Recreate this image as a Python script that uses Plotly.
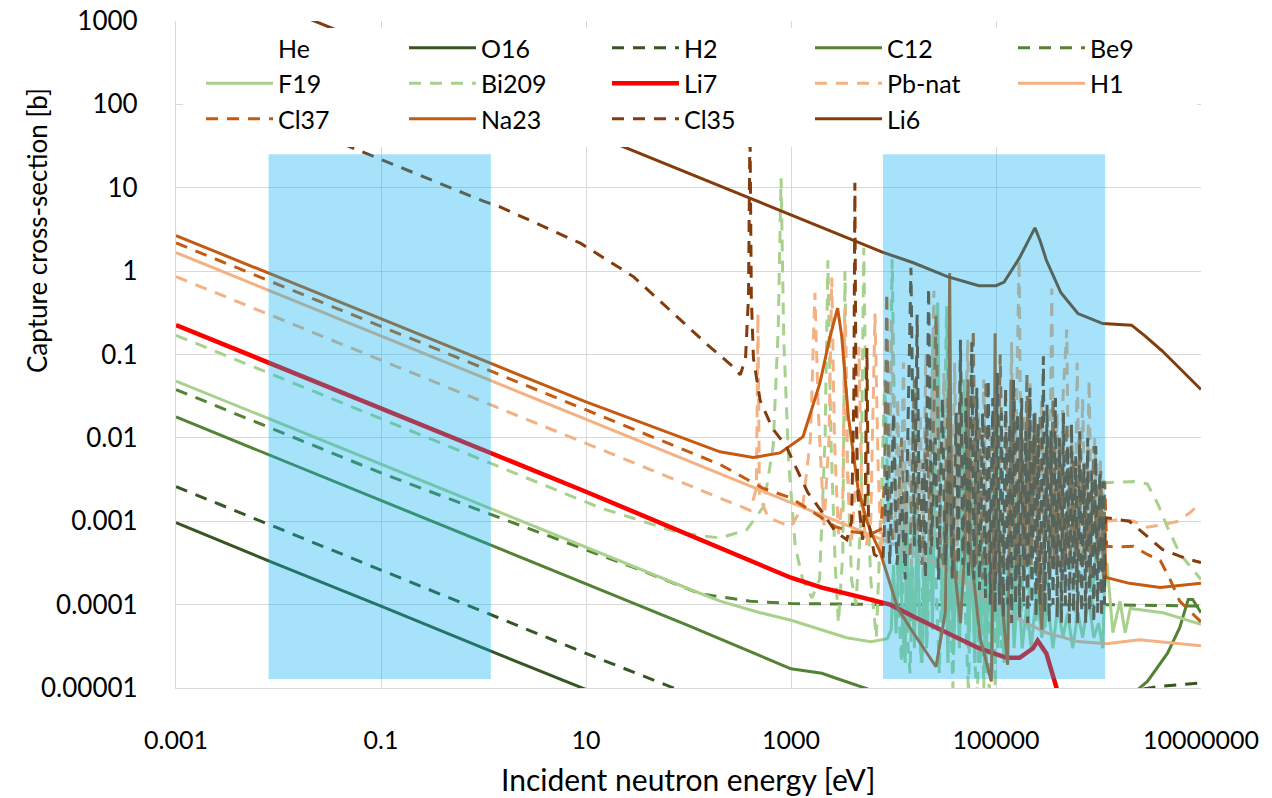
import plotly.graph_objects as go

# ---------------- capture cross-sections [b] vs incident neutron energy [eV] ----------------

he_e = [0.001, 1e7]
he_xs = [0, 0]

o16_e = [0.001, 0.01, 0.1, 1, 10, 12]
o16_xs = [9.6e-4, 3.0e-4, 9.6e-5, 3.0e-5, 9.6e-6, 8.8e-6]

h2_e = [0.001, 0.01, 0.1, 1, 10, 100, 1e3, 1e4, 1e5, 1e6, 2.4e6, 4e6, 7e6, 1e7]
h2_xs = [2.6e-3, 8.2e-4, 2.6e-4, 8.2e-5, 2.6e-5, 8.5e-6, 3.0e-6, 1.5e-6, 2.0e-6, 6.0e-6,
         9.5e-6, 1.05e-5, 1.12e-5, 1.15e-5]

c12_e = [0.001, 0.01, 0.1, 1, 10, 100, 1000, 2000, 2800, 5500, 2e4, 1e5, 1e6,
         2.4e6, 3.0e6, 4.7e6, 6.2e6, 7.5e6, 8.3e6, 1e7]
c12_xs = [0.0178, 5.6e-3, 1.78e-3, 5.6e-4, 1.78e-4, 5.6e-5, 1.7e-5, 1.5e-5, 1.3e-5, 9.8e-6,
          5e-6, 3e-6, 5e-6, 9.5e-6, 1.2e-5, 2.6e-5, 5.3e-5, 1.15e-4, 1.15e-4, 8e-5]

be9_e = [0.001, 0.01, 0.1, 1, 10, 34, 130, 400, 1000, 1e4, 1e5, 1e6, 1e7]
be9_xs = [0.038, 0.012, 0.0038, 0.0013, 4.6e-4, 2.6e-4, 1.35e-4, 1.1e-4, 1.03e-4, 1.0e-4,
          1.0e-4, 1.0e-4, 9.6e-5]

f19_e = [0.001, 0.01, 0.1, 1, 10, 100, 203, 500, 1000, 2000, 3500, 6000, 8700,
         9.5e3, 1.0e4, 1.06e4, 1.15e4, 1.22e4, 1.3e4, 1.35e4, 1.42e4, 1.5e4, 1.6e4, 1.7e4,
         1.8e4, 1.9e4, 2.0e4, 2.1e4, 2.25e4, 2.4e4, 2.55e4, 2.7e4, 2.85e4, 3.0e4, 3.2e4,
         3.4e4, 3.6e4, 3.85e4, 4.1e4, 4.4e4, 4.7e4, 4.9e4, 5.1e4, 5.4e4, 5.8e4, 6.2e4,
         6.6e4, 7.0e4, 7.5e4, 8.0e4, 8.6e4, 9.2e4, 9.7e4, 1.04e5, 1.12e5, 1.2e5, 1.3e5,
         1.4e5, 1.5e5, 1.65e5, 1.8e5, 2.0e5, 2.2e5, 2.5e5, 2.8e5, 3.2e5, 3.6e5, 4.0e5,
         4.5e5, 5.0e5, 5.6e5, 6.3e5, 7.0e5, 8.0e5, 9.0e5, 1.0e6, 1.1e6, 1.15e6,
         1.21e6, 1.38e6, 1.62e6, 1.82e6, 2.04e6, 4.27e6, 1e7]
f19_xs = [0.048, 0.0152, 0.0048, 1.52e-3, 4.8e-4, 1.55e-4, 1.1e-4, 8.0e-5, 6.5e-5, 5.0e-5,
          4.0e-5, 3.6e-5, 3.9e-5,
          5e-5, 3e-4, 4.5e-5, 8e-4, 6e-5, 2e-5, 1.5e-3, 5e-5, 3e-4, 3e-5, 1e-3,
          4e-5, 2e-5, 6e-4, 3e-5, 2e-3, 5e-5, 3e-3, 0.42, 2e-3, 6e-5, 3e-4,
          2e-5, 1e-3, 2.5e-5, 4e-4, 3e-5, 2e-3, 0.05, 1e-3, 3e-5, 6e-4, 2e-5,
          1e-3, 2e-5, 5e-4, 1.5e-5, 8e-4, 1.5e-5, 3e-3, 3e-5, 2e-4, 2e-5, 3e-4,
          6e-4, 3e-5, 2e-4, 3e-5, 1e-4, 3e-5, 1.5e-4, 4e-5, 1e-4, 3e-5, 1e-4,
          4e-5, 8e-5, 3e-5, 8e-5, 4e-5, 1.2e-4, 4e-5, 6e-5, 3e-5, 1.5e-4,
          3.2e-4, 4.6e-5, 1.1e-4, 4.6e-5, 9e-5, 8e-5, 5.8e-5]

bi209_e = [0.001, 0.01, 0.1, 1, 1.45, 13.7, 83, 203, 370, 540, 670, 750, 800, 850, 950,
           1100, 1300, 1600, 1900, 2150, 2290, 2450, 2700, 2900, 3200, 3360, 3550, 3900,
           4300, 4800, 5130, 5500, 6000, 6800, 7500, 8200, 9000, 9700, 1.05e4,
           1.12e4, 1.2e4, 1.28e4, 1.36e4, 1.45e4, 1.55e4, 1.65e4, 1.75e4, 1.86e4, 1.98e4,
           2.1e4, 2.25e4, 2.43e4, 2.6e4, 2.8e4, 3.0e4, 3.3e4, 3.5e4, 3.8e4, 4.1e4, 4.4e4,
           4.7e4, 5.0e4, 5.4e4, 5.8e4, 6.2e4, 6.6e4, 7.1e4, 7.6e4, 8.1e4, 8.6e4, 9.2e4,
           9.8e4, 1.05e5, 1.12e5, 1.2e5, 1.3e5, 1.4e5, 1.5e5, 1.62e5, 1.75e5, 1.9e5,
           2.05e5, 2.25e5, 2.45e5, 2.7e5, 3.0e5, 3.5e5, 4.2e5, 5.0e5, 6.0e5, 7.2e5, 8.6e5,
           1.0e6, 1.12e6, 1.2e6, 2.2e6, 3.0e6, 3.8e6, 4.7e6, 6.2e6, 1e7]
bi209_xs = [0.17, 0.054, 0.017, 0.0054, 0.0045, 0.00145, 7.2e-4, 6.3e-4, 7.9e-4, 0.0015,
            0.008, 0.2, 13, 0.15, 0.005,
            5e-4, 2e-4, 1.2e-4, 2e-4, 0.01, 1.35, 0.01, 3e-4, 6e-5, 4e-4, 1.0, 5e-3, 2e-4,
            1e-4, 1e-3, 1.9, 3e-3, 2e-4, 4e-5, 1e-3, 0.05, 1e-3, 1.4, 2e-3,
            1e-4, 2e-5, 3e-3, 5e-5, 1.5e-5, 4e-4, 0.05, 3e-4, 2e-5, 1e-3,
            3e-5, 2e-4, 0.16, 2e-4, 1.5e-5, 5e-4, 0.38, 3e-4, 1e-5, 2e-3, 5e-5,
            0.03, 1e-4, 8e-6, 4e-3, 2e-5, 8e-6, 2e-3, 1e-5, 6e-4, 7e-6, 5e-3,
            1e-5, 0.02, 3e-5, 1e-3, 4e-5, 5e-3, 5e-5, 2e-3, 6e-5, 1e-3,
            5e-5, 2e-3, 6e-5, 1e-3, 5e-5, 2e-3, 8e-5, 1e-3, 6e-5, 8e-4, 1e-4,
            1e-3, 3e-3, 2.9e-3, 3.0e-3, 2.8e-3, 1.6e-3, 8.5e-4, 4.1e-4, 2.0e-4]

li7_e = [0.001, 0.1, 10, 1000, 2000, 4000, 7900, 9300, 1.56e4, 3.36e4, 6.8e4, 1.27e5,
         1.7e5, 2.3e5, 2.55e5, 3.1e5, 3.9e5, 4.6e5, 1e6, 1e7]
li7_xs = [0.226, 0.0226, 0.00226, 2.1e-4, 1.6e-4, 1.3e-4, 1.05e-4, 1.0e-4, 7.2e-5, 4.6e-5,
          3.0e-5, 2.3e-5, 2.3e-5, 3.0e-5, 3.7e-5, 2.6e-5, 1.0e-5, 7e-6, 4e-6, 3e-6]

pb_e = [0.001, 0.01, 0.1, 1, 10, 100, 203, 400, 460, 476, 492, 600, 780, 1000, 1300, 1550,
        1710, 1850, 2100, 2350, 2500, 2650, 2900, 3200, 3370, 3550, 3900, 4300, 4600, 4900,
        5400, 6000, 6600, 7100, 7600, 8200, 8800, 9700, 1.03e4, 1.1e4, 1.17e4, 1.25e4,
        1.33e4, 1.42e4, 1.5e4, 1.6e4, 1.7e4, 1.82e4, 1.94e4, 2.07e4, 2.2e4, 2.48e4, 2.6e4,
        2.75e4, 2.9e4, 3.1e4, 3.3e4, 3.5e4, 3.7e4, 3.95e4, 4.2e4, 4.45e4, 4.7e4, 5.3e4,
        5.6e4, 5.95e4, 6.3e4, 6.7e4, 7.1e4, 7.6e4, 8.1e4, 8.6e4, 9.1e4, 9.7e4, 1.03e5,
        1.1e5, 1.17e5, 1.25e5, 1.33e5, 1.42e5, 1.5e5, 1.68e5, 1.78e5, 1.9e5, 2.02e5,
        2.15e5, 2.3e5, 2.45e5, 2.6e5, 2.78e5, 2.95e5, 3.1e5, 3.3e5, 3.5e5, 3.7e5, 3.95e5,
        4.2e5, 4.5e5, 4.9e5, 5.2e5, 5.5e5, 5.85e5, 6.2e5, 6.6e5, 7.0e5, 7.5e5, 8.1e5,
        8.6e5, 9.2e5, 9.8e5, 1.04e6, 1.1e6, 1.2e6, 1.6e6, 2.2e6, 3.0e6, 4.0e6, 6.0e6,
        8.0e6, 1e7]
pb_xs = [0.86, 0.27, 0.086, 0.027, 0.0086, 0.0027, 0.0019, 1.35e-3, 2.5e-3, 0.31, 2e-3,
         1.1e-3, 9.7e-4, 8.6e-4, 1.5e-3, 0.01, 0.55, 0.02, 9e-4, 0.01, 0.84, 0.01, 7e-4,
         2e-3, 0.37, 4e-3, 6e-4, 3e-3, 0.124, 2e-3, 5e-4, 1e-3, 0.31, 4e-3, 4e-4, 1.5e-3,
         5e-4, 0.26, 6e-4, 0.03, 4e-4, 0.08,
         5e-4, 0.01, 3e-4, 0.05, 6e-4, 0.02, 4e-4, 0.1, 5e-4, 0.58, 6e-4,
         0.03, 4e-4, 0.06, 5e-4, 0.02, 3e-4, 0.08, 5e-4, 0.03, 4e-4, 0.15,
         5e-4, 0.04, 3e-4, 0.02, 4e-4, 0.05, 3e-4, 0.015, 4e-4, 0.03, 3e-4,
         0.01, 4e-4, 0.02, 3e-4, 0.14, 4e-4, 1.4, 5e-4, 0.02, 3e-4,
         0.05, 4e-4, 0.01, 3e-4, 0.03, 4e-4, 0.015, 4e-4, 0.62, 5e-4, 0.02,
         3e-4, 0.03, 0.2, 4e-4, 0.01, 3e-4, 0.08, 4e-4, 0.03, 3e-4, 0.05,
         4e-4, 0.01, 3e-4, 6e-3, 4e-4, 1.0e-3, 1.05e-3, 1.0e-3, 8.5e-4, 9e-4, 1.0e-3,
         1.3e-3, 1.7e-3]

h1_e = [0.001, 0.1, 10, 1000, 1e4, 3e4, 8.6e4, 1.7e5, 3.1e5, 6.3e5, 1.2e6, 2.5e6, 1e7]
h1_xs = [1.67, 0.167, 0.0167, 1.67e-3, 5.3e-4, 2.9e-4, 1.1e-4, 6.6e-5, 4.6e-5, 3.6e-5,
         3.4e-5, 3.8e-5, 3.2e-5]

cl37_e = [0.001, 0.01, 0.1, 1, 10, 203, 530, 1000, 1620, 2700, 4000, 6000, 7500, 8200,
          8600, 9000, 9800, 1.08e4, 1.2e4, 1.3e4, 1.45e4, 1.6e4, 1.75e4, 1.9e4, 2.1e4,
          2.3e4, 2.6e4, 2.85e4, 3.1e4, 3.4e4, 3.7e4, 4.1e4, 4.5e4, 4.85e4, 5.2e4, 5.6e4,
          6.0e4, 6.4e4, 6.9e4, 7.4e4, 8.0e4, 8.6e4, 9.3e4, 1.0e5, 1.1e5, 1.19e5, 1.28e5,
          1.38e5, 1.5e5, 1.62e5, 1.75e5, 1.88e5, 2.0e5, 2.15e5, 2.3e5, 2.5e5, 2.7e5, 2.9e5,
          3.1e5, 3.35e5, 3.6e5, 3.9e5, 4.2e5, 4.5e5, 4.9e5, 5.3e5, 5.7e5, 6.1e5, 6.6e5,
          7.1e5, 7.7e5, 8.3e5, 9.0e5, 9.7e5, 1.05e6, 1.12e6, 1.15e6, 1.2e6, 1.5e6, 2.2e6,
          3.0e6, 4.0e6, 5.0e6, 6.2e6, 1e7]
cl37_xs = [2.18, 0.69, 0.218, 0.069, 0.0218, 0.0048, 0.0025, 0.0019, 0.0013, 8.6e-4,
           7.5e-4, 7e-4, 8e-4, 3e-3, 0.55, 3e-3, 6e-4, 8e-4, 0.01, 5e-4, 4e-4, 0.05, 6e-4,
           3e-4, 0.02, 4e-4, 0.3, 5e-4, 3e-4, 0.03, 4e-4, 2e-4, 0.08, 4e-4, 0.02, 3e-4,
           0.2, 3e-4, 0.015, 2e-4, 0.05, 3e-4, 0.02, 2e-4, 0.1, 3e-4, 0.01, 2e-4, 0.04,
           3e-4, 0.015, 2e-4, 0.06, 3e-4, 0.01, 2e-4, 0.02, 3e-4, 0.008, 2e-4, 0.03, 3e-4,
           0.01, 2e-4, 0.015, 3e-4, 0.006, 2e-4, 0.01, 3e-4, 0.005, 2e-4, 0.008, 3e-4,
           0.004, 2e-4, 3e-3, 5e-4, 4.9e-4, 5e-4, 4e-4, 3.4e-4, 2e-4, 1.1e-4, 6.2e-5]

na23_e = [0.001, 0.1, 1.45, 10, 203, 427, 782, 1310, 1920, 2400, 2850, 3130, 3630, 4030,
          4500, 5500, 6500, 7400, 1.1e4, 1.56e4, 2.6e4, 3.2e4, 3.45e4, 3.53e4, 3.62e4,
          3.9e4, 4.5e4, 5.0e4, 5.32e4, 5.6e4, 7.0e4, 9.0e4, 9.6e4, 9.8e4, 1.0e5, 1.15e5,
          1.3e5, 1.38e5, 1.4e5, 1.43e5, 1.6e5, 1.75e5, 1.9e5, 2.05e5, 2.2e5, 2.4e5, 2.6e5,
          2.8e5, 3.1e5, 3.4e5, 3.7e5, 4.2e5, 4.7e5, 5.3e5, 6.0e5, 7.0e5, 8.0e5, 9.0e5,
          1.0e6, 1.1e6, 1.14e6, 1.17e6, 1.21e6, 2.0e6, 4.0e6, 1e7]
na23_xs = [2.67, 0.267, 0.0713, 0.027, 0.0068, 0.0058, 0.0066, 0.0103, 0.046, 0.163, 0.36,
           0.163, 0.0179, 0.0072, 2.5e-3, 1e-3, 6e-4, 4.3e-4, 9e-5, 4.6e-5, 1.8e-5, 8e-5,
           0.01, 0.95, 0.01, 3e-4, 6e-5, 5e-4, 0.05, 5e-4, 4e-5, 1.2e-5, 2e-3, 0.18, 2e-3,
           1e-4, 1.9e-5, 3e-3, 0.05, 3e-3, 2e-4, 0.02, 3e-4, 0.03, 3e-4, 0.02, 2e-4, 5e-5,
           2e-3, 0.01, 3e-4, 5e-3, 3e-4, 4e-3, 4e-4, 3e-3, 5e-4, 2e-3, 4e-4, 8e-4, 1.3e-3,
           2.2e-4, 2.1e-4, 1.8e-4, 1.6e-4, 1.8e-4]

cl35_e = [0.002, 0.01, 0.1, 1, 1.45, 8.9, 29, 71, 150, 270, 320, 360, 385, 398, 410, 430,
          500, 660, 900, 1100, 1460, 2000, 2700, 3500, 3900, 4100, 4200, 4300, 4500, 5000,
          5300, 5500, 5700, 6500, 7900, 8600, 9200, 1.0e4, 1.08e4, 1.2e4, 1.3e4, 1.48e4,
          1.6e4, 1.7e4, 1.8e4, 1.95e4, 2.05e4, 2.2e4, 2.35e4, 2.55e4, 2.75e4, 3.0e4, 3.2e4,
          3.5e4, 3.75e4, 4.1e4, 4.3e4, 4.5e4, 4.75e4, 5.1e4, 5.4e4, 5.8e4, 6.1e4, 6.5e4,
          6.9e4, 7.4e4, 7.9e4, 8.4e4, 8.8e4, 9.3e4, 9.8e4, 1.03e5, 1.08e5, 1.13e5, 1.18e5,
          1.24e5, 1.3e5, 1.36e5, 1.42e5, 1.48e5, 1.55e5, 1.62e5, 1.7e5, 1.78e5, 1.86e5,
          1.95e5, 2.04e5, 2.14e5, 2.24e5, 2.35e5, 2.46e5, 2.58e5, 2.7e5, 2.9e5, 3.0e5,
          3.15e5, 3.3e5, 3.45e5, 3.6e5, 3.8e5, 3.95e5, 4.15e5, 4.35e5, 4.55e5, 4.75e5,
          5.0e5, 5.2e5, 5.45e5, 5.7e5, 6.0e5, 6.25e5, 6.55e5, 6.85e5, 7.2e5, 7.5e5, 7.85e5,
          8.2e5, 8.6e5, 9.0e5, 9.4e5, 9.8e5, 1.03e6, 1.07e6, 1.11e6, 1.14e6, 1.16e6, 1.2e6,
          2.0e6, 3.0e6, 4.2e6, 7.0e6, 1e7]
cl35_xs = [155, 69, 21.9, 6.9, 5.9, 2.15, 0.86, 0.31, 0.134, 0.072, 0.057, 0.09, 0.5, 60,
           0.5, 0.09, 0.028, 0.013, 0.0079, 0.0046, 0.0022, 0.0013, 7.6e-4, 6e-4, 1e-3,
           0.03, 11.5, 0.03, 2e-3, 6e-4, 2e-3, 0.12, 1e-3, 4e-4, 3.4e-4, 4e-3, 3e-4, 0.02,
           3e-4, 2e-3, 2e-4, 1.1, 5e-4, 0.3, 4e-4, 5e-3, 2e-4, 0.64, 5e-4, 0.01, 2e-4,
           0.03, 3e-4, 0.008, 2e-4, 0.02, 3e-4, 0.15, 3e-4, 0.03, 2e-4, 0.14, 2e-4, 0.04,
           1.5e-4, 0.02, 1.2e-4, 0.05, 1e-4, 0.03, 8e-5, 0.06, 1e-4, 0.02, 7e-5, 0.04,
           1e-4, 0.015, 6e-5, 0.05, 1e-4, 0.02, 7e-5, 0.03, 1e-4, 0.012, 6e-5, 0.04,
           1e-4, 0.02, 7e-5, 0.015, 1e-4, 0.095, 8e-5, 0.025, 6e-5, 0.012, 1e-4, 0.03,
           7e-5, 0.01, 6e-5, 0.02, 1e-4, 0.008, 6e-5, 0.015, 8e-5, 0.006, 6e-5, 0.012,
           8e-5, 0.005, 6e-5, 0.01, 8e-5, 0.004, 6e-5, 0.008, 8e-5, 0.004, 7e-5, 0.003,
           1e-4, 1e-3, 1.1e-3, 1.0e-3, 6.5e-4, 4.6e-4, 3.6e-4, 3.2e-4]

li6_e = [0.001, 0.01, 0.02, 0.1, 1, 10, 100, 1000, 7900, 1.56e4, 3.36e4, 6.8e4, 1e5, 1.2e5,
         1.7e5, 2.1e5, 2.4e5, 2.7e5, 3.1e5, 4.3e5, 6.3e5, 1.1e6, 1.6e6, 2.1e6, 2.8e6,
         4.2e6, 1e7]
li6_xs = [4730, 1495, 1055, 472, 149, 47.2, 14.9, 4.72, 1.68, 1.26, 0.86, 0.67, 0.67, 0.74,
          1.45, 2.4, 3.3, 2.3, 1.35, 0.55, 0.31, 0.235, 0.23, 0.225, 0.17, 0.11, 0.038]

# highlighted energy windows (thermal and fast) drawn as translucent bands
band_e_lo = [0.008, 7900]
band_e_hi = [1.18, 1.16e6]
band_xs_lo = 1.28e-5
band_xs_hi = 25.3

x_tickvals = [0.001, 0.1, 10, 1000, 100000, 10000000]
x_ticktext = ["0.001", "0.1", "10", "1000", "100000", "10000000"]
y_tickvals = [1e-5, 1e-4, 1e-3, 1e-2, 1e-1, 1, 10, 100, 1000]
y_ticktext = ["0.00001", "0.0001", "0.001", "0.01", "0.1", "1", "10", "100", "1000"]

DARK_GREEN = "#375623"
GREEN = "#548235"
LIGHT_GREEN = "#A9D18E"
LIGHT_ORANGE = "#F4B183"
ORANGE = "#C55A11"
BROWN = "#843C0C"
DASH = "12px,9px"

series = [
    ("He", he_e, he_xs, "rgba(0,0,0,0)", "solid", 3),
    ("O16", o16_e, o16_xs, DARK_GREEN, "solid", 3),
    ("H2", h2_e, h2_xs, DARK_GREEN, DASH, 3),
    ("C12", c12_e, c12_xs, GREEN, "solid", 3),
    ("Be9", be9_e, be9_xs, GREEN, DASH, 3),
    ("F19", f19_e, f19_xs, LIGHT_GREEN, "solid", 3),
    ("Bi209", bi209_e, bi209_xs, LIGHT_GREEN, DASH, 3),
    ("Li7", li7_e, li7_xs, "#FF0000", "solid", 4.5),
    ("Pb-nat", pb_e, pb_xs, LIGHT_ORANGE, DASH, 3),
    ("H1", h1_e, h1_xs, LIGHT_ORANGE, "solid", 3),
    ("Cl37", cl37_e, cl37_xs, ORANGE, DASH, 3),
    ("Na23", na23_e, na23_xs, ORANGE, "solid", 3),
    ("Cl35", cl35_e, cl35_xs, BROWN, DASH, 3),
    ("Li6", li6_e, li6_xs, BROWN, "solid", 3),
]

fig = go.Figure()
for name, e, xs, color, dash, width in series:
    fig.add_trace(go.Scatter(
        x=e, y=xs, name=name, mode="lines",
        line=dict(color=color, width=width, dash=dash),
        hoverinfo="skip",
    ))

for lo, hi in zip(band_e_lo, band_e_hi):
    fig.add_trace(go.Scatter(
        x=[lo, hi, hi, lo, lo],
        y=[band_xs_lo, band_xs_lo, band_xs_hi, band_xs_hi, band_xs_lo],
        mode="lines", fill="toself", fillcolor="rgba(0,176,240,0.35)",
        line=dict(width=0), showlegend=False, hoverinfo="skip",
    ))

GRID = "#D9D9D9"
PLOT_L, PLOT_R, PLOT_T, PLOT_B = 176, 1201, 21, 688


def px_x(p):
    return (p - PLOT_L) / (PLOT_R - PLOT_L)


def px_y(p):
    return (PLOT_B - p) / (PLOT_B - PLOT_T)


fig.update_layout(
    width=1272, height=798, autosize=False,
    margin=dict(l=PLOT_L, r=1272 - PLOT_R, t=PLOT_T, b=798 - PLOT_B, autoexpand=False),
    paper_bgcolor="white", plot_bgcolor="white",
    font=dict(family="Lato, sans-serif", color="#000000"),
    xaxis=dict(
        type="log", range=[-3, 7], tickvals=x_tickvals, ticktext=x_ticktext,
        showgrid=True, gridcolor=GRID, gridwidth=1.3, zeroline=False,
        showline=True, linecolor=GRID, linewidth=1.3, ticks="", automargin=False,
        tickfont=dict(family="Lato, sans-serif", size=25, color="#000000"),
        ticklabelstandoff=30,
    ),
    yaxis=dict(
        type="log", range=[-5, 3], tickvals=y_tickvals, ticktext=y_ticktext,
        showgrid=True, gridcolor=GRID, gridwidth=1.3, zeroline=False,
        showline=True, linecolor=GRID, linewidth=1.3, ticks="", automargin=False,
        tickfont=dict(family="Lato, sans-serif", size=26, color="#000000"),
        ticklabelstandoff=32,
    ),
    legend=dict(
        orientation="h", x=px_x(201), y=px_y(25), xanchor="left", yanchor="top",
        bgcolor="rgba(0,0,0,0)", borderwidth=0,
        font=dict(family="Lato, sans-serif", size=25, color="#000000"),
        entrywidth=121, entrywidthmode="pixels", itemwidth=67,
        traceorder="normal",
    ),
    shapes=[
        # opaque legend panel hiding grid and curves behind the key
        dict(type="rect", xref="paper", yref="paper", layer="above",
             x0=px_x(183), x1=px_x(1197), y0=px_y(147), y1=px_y(28),
             fillcolor="white", line=dict(width=0)),
    ],
    annotations=[
        dict(text="Capture cross-section [b]", xref="paper", yref="paper",
             x=px_x(37), y=px_y(231), xanchor="center", yanchor="middle",
             textangle=-90, showarrow=False,
             font=dict(family="Lato, sans-serif", size=26, color="#000000")),
        dict(text="Incident neutron energy [eV]", xref="paper", yref="paper",
             x=px_x(688), y=px_y(779), xanchor="center", yanchor="middle",
             showarrow=False,
             font=dict(family="Lato, sans-serif", size=30, color="#000000")),
    ],
)

fig.write_html("out.html")
